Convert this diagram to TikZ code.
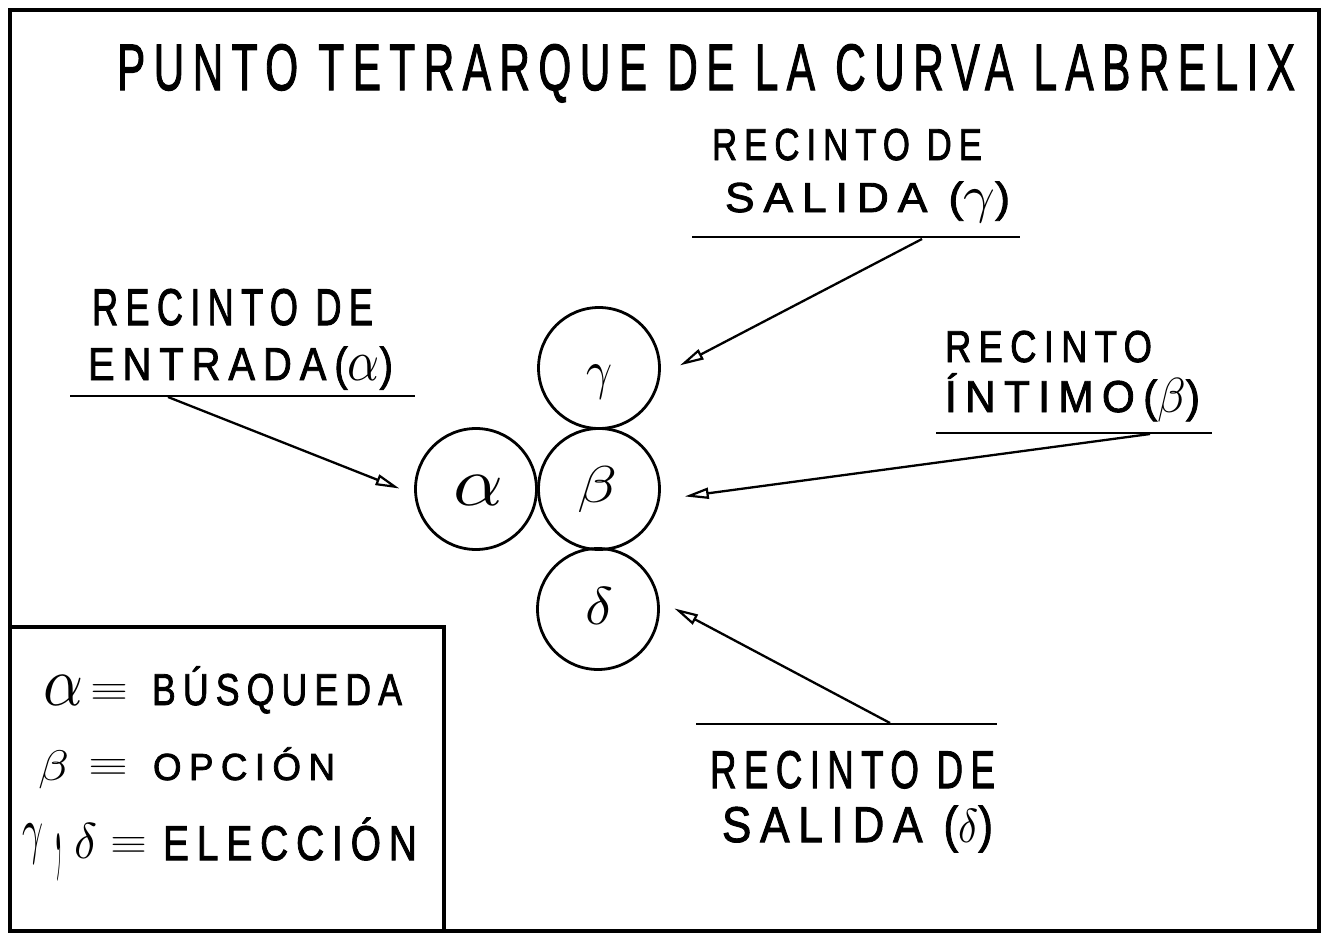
\documentclass[tikz,border=0pt]{standalone}
\usepackage{fontspec}
\usepackage{graphicx}
\usetikzlibrary{arrows.meta}
\newfontfamily\hand{Liberation Sans}[LetterSpace=20,FakeBold=2]
\newcommand\hw[3]{\resizebox{#1}{#2}{\hand\fontsize{40}{40}\selectfont\smash{#3}\rule{0pt}{0.716em}}}
\newcommand\gk[2][5]{\scalebox{#1}{\fontsize{10}{10}\selectfont$#2$}}
\tikzset{
  txt/.style={anchor=base west, inner sep=0pt, outer sep=0pt},
  circ/.style={circle, draw, line width=2.8pt, minimum size=121pt, inner sep=0pt},
  frame/.style={line width=4.5pt},
  uline/.style={line width=2pt},
  arr/.style={line width=2.3pt, -{Triangle[open,length=24pt,width=11pt,line width=2.2pt]}},
  eqv/.style={anchor=base west, inner sep=0pt, outer sep=0pt},
}
\begin{document}
\begin{tikzpicture}[x=1pt,y=-1pt]
\useasboundingbox (0,0) rectangle (1324,934);
% frame
\draw[frame] (10,10) rectangle (1319,931);
\draw[frame] (10,627) -- (444,627) -- (444,931);

% title
\node[txt] (title) at (117,90) {\hw{1178pt}{47pt}{PUNTO TETRARQUE DE LA CURVA LABRELIX}};

% circles
\node[circ] (g) at (599,368) {};
\node[circ] (b) at (599,489) {};
\node[circ] (a) at (476,489) {};
\node[circ] (d) at (598,609) {};
\node[txt] (gl) at (586,388) {\resizebox*{26pt}{34pt}{$\gamma$}};
\node[txt] (bl) at (577,502) {\resizebox*{40pt}{46pt}{$\beta$}};
\node[txt] (al) at (453,505) {\resizebox{50pt}{30pt}{$\alpha$}};
\node[txt] (dl) at (585,624) {\resizebox{28pt}{37pt}{$\delta$}};

% label gamma
\node[txt] (lg1) at (712,160) {\hw{270pt}{32pt}{RECINTO DE}};
\node[txt] (lg2) at (725,212) {\hw{285pt}{30pt}{SALIDA (\gk{\gamma})}};
\coordinate (ug1) at (692,237);
\coordinate (ug2) at (1020,237);
\draw[uline] (ug1) -- (ug2);
\coordinate (sg) at (922,239);
\draw[arr, shorten >=22pt] (sg) -- (g.-7);

% label alpha
\node[txt] (la1) at (92,325) {\hw{281pt}{37pt}{RECINTO DE}};
\node[txt] (la2) at (88,380) {\hw{305pt}{33pt}{ENTRADA(\gk{\alpha})}};
\coordinate (ua1) at (70,396);
\coordinate (ua2) at (415,396);
\draw[uline] (ua1) -- (ua2);
\coordinate (sa) at (168,397);
\draw[arr, shorten >=16pt] (sa) -- (a.185);

% label beta
\node[txt] (lb1) at (945,362) {\hw{207pt}{32pt}{RECINTO}};
\node[txt] (lb2) at (945,412) {\hw{255pt}{32pt}{ÍNTIMO(\gk[4.4]{\beta})}};
\coordinate (ub1) at (936,433);
\coordinate (ub2) at (1212,433);
\draw[uline] (ub1) -- (ub2);
\coordinate (sb) at (1150,434);
\draw[arr, shorten >=25pt] (sb) -- (b.-10);

% label delta
\coordinate (ud1) at (696,724);
\coordinate (ud2) at (997,724);
\draw[uline] (ud1) -- (ud2);
\coordinate (sd) at (890,723);
\draw[arr, shorten >=17pt] (sd) -- (d.8);
\node[txt] (ld1) at (710,788) {\hw{285pt}{38pt}{RECINTO DE}};
\node[txt] (ld2) at (722,842) {\hw{271pt}{36pt}{SALIDA (\gk[3.8]{\delta})}};

% legend
\node[txt] (k1a) at (43,705) {\resizebox{40pt}{30pt}{$\alpha$}};
\node[eqv] (k1b) at (90,700) {\resizebox{38pt}{16pt}{$\equiv$}};
\node[txt] (k1c) at (152,705) {\hw{250pt}{32pt}{BÚSQUEDA}};

\node[txt] (k2a) at (38,780) {\resizebox*{31pt}{38pt}{$\beta$}};
\node[eqv] (k2b) at (88,775) {\resizebox{40pt}{16pt}{$\equiv$}};
\node[txt] (k2c) at (153,780) {\hw{182pt}{27pt}{OPCIÓN}};

\node[txt] (k3a) at (22,851) {\resizebox*{21pt}{40pt}{$\gamma$}};
\node[txt] (k3c1) at (54,850) {\scalebox{3}[16]{,}};
\node[txt] (k3d) at (74,858) {\resizebox{23pt}{35pt}{$\delta$}};
\node[eqv] (k3b) at (110,853) {\resizebox{37pt}{16pt}{$\equiv$}};
\node[txt] (k3c) at (163,860) {\hw{254pt}{35pt}{ELECCIÓN}};
\end{tikzpicture}
\end{document}
